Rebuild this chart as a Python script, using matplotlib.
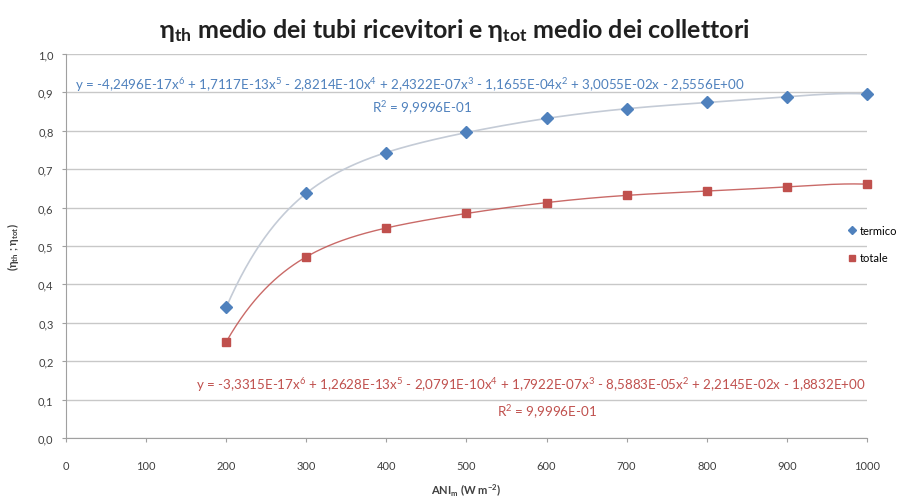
import numpy as np
import matplotlib
matplotlib.use("Agg")
import matplotlib.pyplot as plt
from matplotlib.ticker import FuncFormatter
from matplotlib import font_manager

plt.rcParams['font.family'] = ['Lato', 'DejaVu Sans']
plt.rcParams['mathtext.default'] = 'regular'

ani = [200, 300, 400, 500, 600, 700, 800, 900, 1000]
termico = [0.340, 0.638, 0.742, 0.797, 0.832, 0.856, 0.875, 0.888, 0.896]
totale = [0.250, 0.472, 0.546, 0.586, 0.612, 0.632, 0.643, 0.654, 0.661]

poly_order = 6

eq_termico = "y = -4,2496E-17x$^6$ + 1,7117E-13x$^5$ - 2,8214E-10x$^4$ + 2,4322E-07x$^3$ - 1,1655E-04x$^2$ + 3,0055E-02x - 2,5556E+00"
r2_termico = "R$^2$ = 9,9996E-01"
eq_totale = "y = -3,3315E-17x$^6$ + 1,2628E-13x$^5$ - 2,0791E-10x$^4$ + 1,7922E-07x$^3$ - 8,5883E-05x$^2$ + 2,2145E-02x - 1,8832E+00"
r2_totale = "R$^2$ = 9,9996E-01"

blue = '#4F81BD'
red = '#C0504D'

names = {f.name for f in font_manager.fontManager.ttflist}
narrow = 'Liberation Sans Narrow' if 'Liberation Sans Narrow' in names else None
eq_family = [narrow, 'Lato'] if narrow else ['Lato']
eq_size = 10.8 if narrow else 9.6

fig = plt.figure(figsize=(9.08, 5.02), dpi=100)
ax = fig.add_axes([0.0727, 0.1255, 0.882, 0.765])

xa = np.array(ani, dtype=float) / 1000.0
xs = np.linspace(ani[0], ani[-1], 400)
c_th = np.polyfit(xa, termico, poly_order)
c_to = np.polyfit(xa, totale, poly_order)
ax.plot(xs, np.polyval(c_th, xs / 1000.0), color='#C4CBD6', lw=1.2, zorder=2)
ax.plot(xs, np.polyval(c_to, xs / 1000.0), color='#C0504D', lw=1.0, alpha=0.85, zorder=2)
ax.plot(ani, termico, linestyle='none', marker='D', markersize=6.5, color=blue, label='termico', zorder=3, clip_on=False)
ax.plot(ani, totale, linestyle='none', marker='s', markersize=6, color=red, label='totale', zorder=3, clip_on=False)

ax.set_xlim(0, 1000)
ax.set_ylim(0, 1.0)
ax.set_xticks(np.arange(0, 1001, 100))
ax.set_yticks(np.arange(0, 1.01, 0.1))
ax.yaxis.set_major_formatter(FuncFormatter(lambda v, p: f"{v:.1f}".replace('.', ',')))
ax.grid(axis='y', color='#C8C8C8', lw=1)
ax.set_axisbelow(True)
for s in ['top', 'right']:
    ax.spines[s].set_visible(False)
ax.spines['left'].set_color('#A0A0A0')
ax.spines['bottom'].set_color('#A0A0A0')
ax.tick_params(labelsize=8, colors='#404040', length=3)
ax.tick_params(axis='both', color='#A0A0A0')
ax.tick_params(axis='x', pad=13)
ax.tick_params(axis='y', pad=6)

ax.text(429, 0.922, eq_termico, color=blue, fontsize=eq_size, family=eq_family, ha='center', va='center')
ax.text(445, 0.862, r2_termico, color=blue, fontsize=eq_size, family=eq_family, ha='center', va='center')
ax.text(580, 0.14, eq_totale, color=red, fontsize=eq_size, family=eq_family, ha='center', va='center')
ax.text(600, 0.07, r2_totale, color=red, fontsize=eq_size, family=eq_family, ha='center', va='center')

ax.set_xlabel("ANI$_m$ (W m$^{-2}$)", fontsize=8, color='#404040', fontweight='bold', labelpad=8)
ax.set_ylabel("($\\eta_{th}$ ; $\\eta_{tot}$)", fontsize=8, color='#404040', fontweight='bold', labelpad=12)

fig.text(0.5, 0.94, "$\\eta_{th}$ medio dei tubi ricevitori e $\\eta_{tot}$ medio dei collettori",
         ha='center', va='center', fontsize=18, fontweight='bold', color='#202020')

ax.legend(loc='center left', bbox_to_anchor=(0.972, 0.505), frameon=False, fontsize=8,
          handlelength=0.6, handletextpad=0.4, labelspacing=1.5, markerscale=0.7, borderaxespad=0)

fig.savefig('out.png', dpi=100)
